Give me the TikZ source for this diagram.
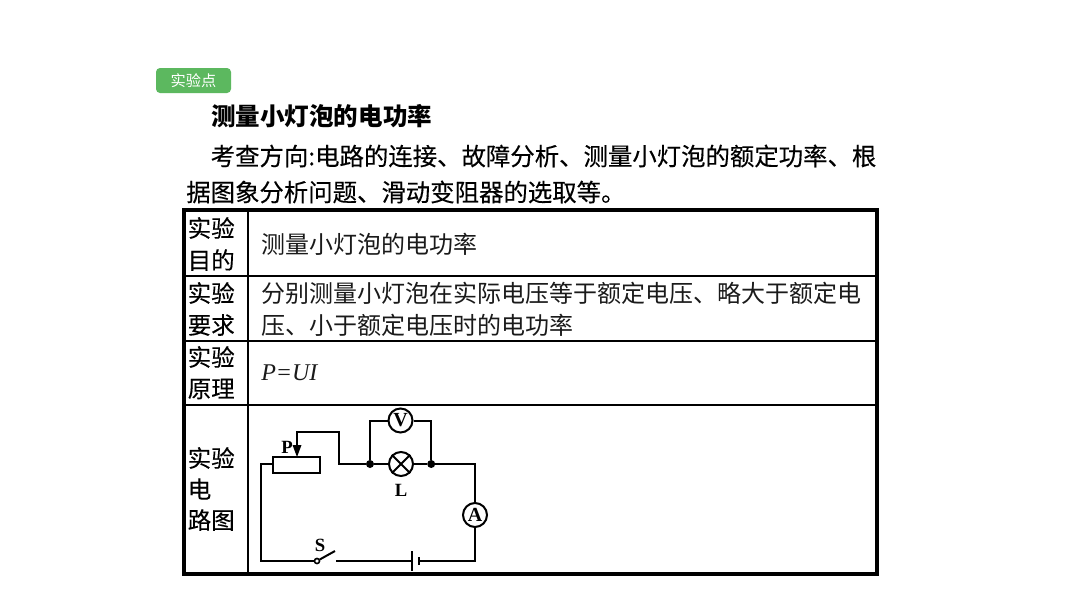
\documentclass[tikz,border=0pt]{standalone}
\usepackage{fontspec}
\setmainfont{Noto Sans CJK SC}
\newfontfamily\cjkmed[FakeBold=0.25]{Noto Sans CJK SC}
\newfontfamily\latinser{Liberation Serif}
\definecolor{badge}{HTML}{5CB85F}
\definecolor{ink}{HTML}{1A1A1A}
\tikzset{
  x=0.75pt,y=-0.75pt,
  body/.style={anchor=west,inner sep=0pt,text=black,font=\cjkmed\fontsize{18.3}{18.3}\selectfont},
  cell/.style={anchor=west,inner sep=0pt,text=black,font=\cjkmed\fontsize{17.6}{17.6}\selectfont},
  celltxt/.style={anchor=west,inner sep=0pt,text=ink,font=\fontsize{18}{18}\selectfont},
  wire/.style={draw=black,line width=1.5pt,line join=miter},
  meter/.style={circle,draw=black,line width=1.5pt,fill=white,minimum size=18pt,inner sep=0pt,font=\latinser\bfseries\fontsize{15}{15}\selectfont},
  junction/.style={circle,fill=black,inner sep=0pt,minimum size=6pt},
  lbl/.style={inner sep=0pt,font=\latinser\bfseries\fontsize{14}{14}\selectfont},
  outerline/.style={draw=black,line width=3.2pt},
  innerline/.style={draw=black,line width=1.3pt}
}
\begin{document}
\begin{tikzpicture}
\useasboundingbox (0,0) rectangle (1066,600);
\fill[white] (0,0) rectangle (1066,600);
% badge
\node[fill=badge,rounded corners=3pt,minimum width=56.25pt,minimum height=18.75pt,inner sep=0pt,text=white,font=\fontsize{11.4}{11.4}\selectfont] (badge) at (193.5,80.5) {实验点};
% heading text
\node[body,font=\bfseries\fontsize{18.4}{18.4}\selectfont,text=black] (title) at (211,116) {测量小灯泡的电功率};
\node[body] (l1) at (210.5,156) {考查方向:电路的连接、故障分析、测量小灯泡的额定功率、根};
\node[body] (l2) at (186,192) {据图象分析问题、滑动变阻器的选取等。};
% table
\coordinate (tl) at (184,210);
\coordinate (br) at (877,574);
\draw[innerline] (248,210) -- (248,574);
\draw[innerline] (184,276) -- (877,276);
\draw[innerline] (184,341) -- (877,341);
\draw[innerline] (184,405) -- (877,405);
\draw[outerline] (tl) rectangle (br);
% cells
\node[cell] (a1) at (187.5,228) {实验};
\node[cell] (a2) at (187.5,260) {目的};
\node[cell] (b1) at (187.5,293) {实验};
\node[cell] (b2) at (187.5,325) {要求};
\node[cell] (c1) at (187.5,357) {实验};
\node[cell] (c2) at (187.5,389) {原理};
\node[cell] (d1) at (187.5,458) {实验};
\node[cell] (d2) at (187.5,489) {电};
\node[cell] (d3) at (187.5,520) {路图};
\node[celltxt] (t1) at (261,244) {测量小灯泡的电功率};
\node[celltxt] (t2) at (261,293) {分别测量小灯泡在实际电压等于额定电压、略大于额定电};
\node[celltxt] (t3) at (261,325) {压、小于额定电压时的电功率};
\node[celltxt,font=\latinser\itshape\fontsize{18}{18}\selectfont] (t4) at (261,373) {P=UI};
% circuit
\node[draw=black,line width=1.5pt,minimum width=35.25pt,minimum height=12pt,inner sep=0pt] (rh) at (296.5,465) {};
\node[meter] (V) at (400.5,420.5) {V};
\node[meter] (lamp) at (401,464) {};
\draw[line width=1.5pt] (lamp.north west) -- (lamp.south east) (lamp.north east) -- (lamp.south west);
\node[meter] (A) at (475,515) {A};
\node[junction] (j1) at (370,464) {};
\node[junction] (j2) at (431.2,464) {};
\node[lbl] (P) at (287,447) {P};
\node[lbl] (L) at (401,490) {L};
\node[lbl] (S) at (320,545.5) {S};
\node[circle,draw=black,line width=1.2pt,fill=white,inner sep=0pt,minimum size=3.8pt] (sw) at (317,561) {};
\coordinate (swend) at (335,551);
\coordinate (swr) at (336,561);
\coordinate (bl) at (412,561);
\coordinate (br1) at (419,561);
\coordinate (pt) at (297,432);
\coordinate (pr) at (339,432);
\coordinate (rmid) at (339,464);
\coordinate (corner1) at (261,464);
\coordinate (corner2) at (261,561);
\coordinate (corner3) at (475,561);
\coordinate (corner4) at (475,464);
\draw[wire] (rh.west |- corner1) -- (corner1) -- (corner2) -- (sw);
\draw[wire] (sw) -- (swend);
\draw[wire] (swr) -- (bl);
\draw[wire] (412,551) -- (412,571);
\draw[wire,line width=1.8pt] (419,557) -- (419,565);
\draw[wire] (br1) -- (corner3) -- (A);
\draw[wire] (A) -- (corner4) -- (j2);
\draw[wire] (j2) -- (lamp);
\draw[wire] (lamp) -- (j1);
\draw[wire] (j1) -- (rmid) -- (pr) -- (pt) -- (297,446);
\fill[black] (292.5,445) -- (301.5,445) -- (297,457) -- cycle;
\draw[wire] (j1) -- (370,420.5) -- (V);
\draw[wire] (V) -- (431.2,420.5) -- (j2);
\end{tikzpicture}
\end{document}
